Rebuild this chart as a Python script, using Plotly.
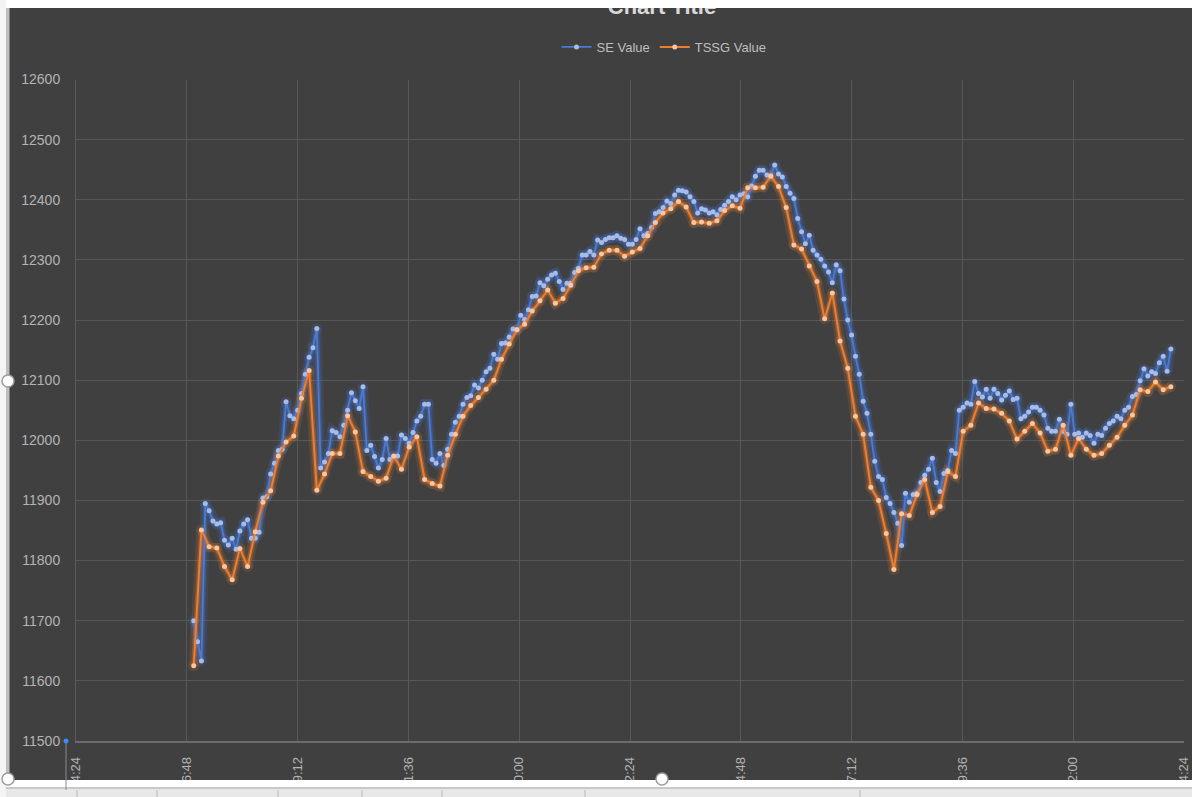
import pandas as pd
import plotly.graph_objects as go

# ---- data -------------------------------------------------------------
se_value = [
    11700, 11665, 11633, 11895, 11883, 11866, 11861, 11863, 11834, 11826,
    11837, 11819, 11849, 11861, 11868, 11837, 11837, 11847, 11904, 11906,
    11944, 11962, 11983, 11985, 12064, 12041, 12036, 12050, 12078, 12110,
    12138, 12154, 12186, 11954, 11964, 11978, 12016, 12013, 12006, 12025,
    12050, 12079, 12066, 12053, 12089, 11983, 11992, 11973, 11954, 11968,
    12003, 11968, 11973, 11974, 12009, 12003, 11995, 12013, 12032, 12040,
    12060, 12060, 11968, 11962, 11978, 11958, 11985, 12010, 12030, 12040,
    12060,
    12071, 12074, 12092, 12087, 12100, 12114, 12120, 12143, 12135, 12161,
    12162, 12172, 12185, 12184, 12208, 12201, 12217, 12239, 12240, 12262,
    12257, 12268, 12275, 12278, 12264, 12251, 12261, 12261, 12279, 12286,
    12308, 12308, 12314, 12308, 12333, 12329, 12334, 12337, 12337, 12340,
    12336, 12334, 12326, 12326, 12334, 12352, 12340, 12344, 12354, 12377,
    12380, 12387, 12398, 12394, 12408, 12416, 12415, 12413, 12405, 12397,
    12378, 12385, 12383, 12378, 12380, 12375, 12384, 12391, 12397, 12405,
    12400, 12408, 12410, 12405, 12423, 12439, 12449, 12449, 12441, 12440,
    12458, 12443, 12438, 12422, 12411, 12402, 12369, 12347, 12327, 12341,
    12316, 12308, 12301,
    12290, 12280, 12262, 12292, 12282, 12235, 12200, 12175, 12140, 12110,
    12065, 12045, 12010, 11965, 11940, 11935, 11905, 11895, 11880, 11862,
    11825, 11912, 11897, 11910, 11912, 11930, 11942, 11952, 11970, 11930,
    11915, 11945, 11950, 11983, 11978, 12050, 12055, 12062, 12060, 12098,
    12078, 12072, 12085, 12070, 12085, 12078, 12067, 12075, 12082, 12068,
    12070, 12036, 12040, 12047, 12055, 12055, 12050, 12042, 12020, 12015,
    12015, 12035, 12015, 12010, 12060, 12010, 12012, 12005, 12012, 12008,
    11995, 12010, 12008, 12020, 12028, 12032, 12040, 12036, 12050, 12055,
    12073, 12076, 12099, 12119, 12107, 12114, 12111, 12129, 12140, 12115,
    12152,
]

tssg_value = [
    11625, 11851, 11823, 11821, 11790, 11768, 11820, 11790, 11848, 11897,
    11916, 11974, 11997, 12007, 12070, 12116, 11917, 11944, 11978, 11978,
    12041, 12014, 11948, 11940, 11932, 11937, 11974, 11952, 11989, 12006,
    11935, 11928, 11924, 11975, 12010, 12040, 12058, 12071, 12085, 12100,
    12135, 12160, 12184, 12193, 12215, 12232, 12250, 12228, 12236, 12258,
    12282, 12287, 12288, 12310, 12316, 12316, 12306, 12313, 12319, 12340,
    12362, 12378, 12385, 12397, 12388, 12362, 12363, 12361, 12365, 12382,
    12390, 12386, 12420, 12420, 12421, 12439, 12422, 12387, 12325, 12318,
    12290, 12264, 12202, 12245, 12165, 12120, 12040, 12010, 11922, 11900,
    11845, 11785, 11878, 11875, 11910, 11935, 11880, 11890, 11948, 11940,
    12015, 12025, 12062, 12053, 12052, 12045, 12032, 12002, 12015, 12028,
    12012, 11982, 11985, 12025, 11975, 12003, 11985, 11975, 11978, 11992,
    12005, 12025, 12042, 12084, 12081, 12097, 12084, 12089,
]

series_names = ["SE Value", "TSSG Value"]
chart_title = "Chart Title"
first_reading = "2019-03-14 16:57"
se_time = pd.date_range(first_reading, periods=len(se_value), freq="5min")
tssg_time = pd.date_range(first_reading, periods=len(tssg_value), freq="10min")

x_start, x_end = "2019-03-14 14:24", "2019-03-15 14:24"
y_min, y_max, y_step = 11500, 12600, 100

# ---- page geometry (pixels) -------------------------------------------
W, H = 1192, 797


def px(x):
    return x / W


def py(y):
    return 1 - y / H


FONT = "Liberation Sans, Arial, sans-serif"
BG = "#404040"
GRID = "#575757"

BLUE, BLUE_PT = "#4a7bd0", "#a8bce6"
ORANGE, ORANGE_PT = "#ed7d31", "#f7c6a3"

fig = go.Figure()

# soft glow under each series
for t, v, c in [(se_time, se_value, "rgba(70,120,225,"), (tssg_time, tssg_value, "rgba(237,125,49,")]:
    fig.add_trace(go.Scatter(x=t, y=v, mode="lines+markers", showlegend=False, hoverinfo="skip",
                             line=dict(color=c + "0.15)", width=10),
                             marker=dict(color=c + "0.15)", size=11)))
    fig.add_trace(go.Scatter(x=t, y=v, mode="lines", showlegend=False, hoverinfo="skip",
                             line=dict(color=c + "0.30)", width=5)))

fig.add_trace(go.Scatter(x=se_time, y=se_value, name=series_names[0], mode="lines+markers",
                         line=dict(color=BLUE, width=1.8),
                         marker=dict(color=BLUE_PT, size=5, line=dict(width=0))))
fig.add_trace(go.Scatter(x=tssg_time, y=tssg_value, name=series_names[1], mode="lines+markers",
                         line=dict(color=ORANGE, width=2),
                         marker=dict(color=ORANGE_PT, size=5, line=dict(width=0))))

# chart title, clipped by the top edge of the chart frame (title strip: y 8..40 px)
fig.add_trace(go.Scatter(x=[662], y=[31.5], mode="text", text=[chart_title],
                         textfont=dict(family=FONT, size=22, color="#d9d9d9", weight="bold"),
                         textposition="middle center", cliponaxis=True,
                         showlegend=False, hoverinfo="skip", xaxis="x2", yaxis="y2"))

shapes = []


def rect(x0, y0, x1, y1, color):
    shapes.append(dict(type="rect", xref="paper", yref="paper", layer="above",
                       x0=px(x0), x1=px(x1), y0=py(y1), y1=py(y0),
                       fillcolor=color, line=dict(width=0)))


def vline(x, y0, y1, color, width=1):
    shapes.append(dict(type="line", xref="paper", yref="paper", layer="above",
                       x0=px(x), x1=px(x), y0=py(y0), y1=py(y1),
                       line=dict(color=color, width=width)))


def handle(cx, cy, r=6):
    shapes.append(dict(type="circle", xref="paper", yref="paper", layer="above",
                       x0=px(cx - r), x1=px(cx + r), y0=py(cy + r), y1=py(cy - r),
                       fillcolor="white", line=dict(color="#9c9c9c", width=1.5)))


# window chrome around the chart frame
rect(0, 0, W, 8, "white")
rect(0, 780, W, 787, "white")
rect(0, 787, W, 789, "#c8c8c8")
rect(0, 789, W, H, "#e8e8e8")
rect(0, 0, 6, H, "#f4f4f4")
rect(6, 8, 9.5, 780, "#bebebe")
for xs in [77, 157, 278, 362, 442, 585, 860]:
    vline(xs, 790, H, "#b8b8b8")
vline(66, 741, 790, "#8a8a8a")
shapes.append(dict(type="circle", xref="paper", yref="paper", layer="above",
                   x0=px(63.5), x1=px(68.5), y0=py(743.5), y1=py(738.5),
                   fillcolor="#2f8fff", line=dict(width=0)))
handle(8, 381)
handle(8, 779)
handle(662, 779)

fig.update_layout(
    template="none",
    width=W, height=H,
    margin=dict(l=0, r=0, t=0, b=0, pad=0),
    paper_bgcolor=BG, plot_bgcolor=BG,
    hovermode=False,
    showlegend=True,
    legend=dict(orientation="h", x=px(664), y=py(47), xanchor="center", yanchor="middle",
                bgcolor="rgba(0,0,0,0)",
                font=dict(family=FONT, size=13, color="#bfbfbf"),
                itemwidth=30, tracegroupgap=0),
    xaxis=dict(
        type="date", domain=[px(76), px(1184)], range=[x_start, x_end],
        tick0=x_start, dtick=2.4 * 3600 * 1000, tickformat="%-m/%-d/%Y %-H:%M",
        tickangle=-90, tickfont=dict(family=FONT, size=13, color="#b4b4b4"),
        ticks="", ticklabelstandoff=9,
        showgrid=True, gridcolor=GRID, gridwidth=1,
        showline=True, linecolor="#6c6c6c", linewidth=1.5,
        zeroline=False, automargin=False, anchor="y",
    ),
    yaxis=dict(
        domain=[py(741), py(79.5)], range=[y_min, y_max], dtick=y_step, tick0=y_min,
        tickformat="d",
        tickfont=dict(family=FONT, size=14, color="#b4b4b4"), ticks="", ticklabelstandoff=12,
        showgrid=True, gridcolor=GRID, gridwidth=1,
        showline=True, linecolor="#5c5c5c", linewidth=1,
        zeroline=False, automargin=False, anchor="x",
    ),
    xaxis2=dict(domain=[px(200), px(1120)], range=[200, 1120], visible=False, anchor="y2",
                fixedrange=True),
    yaxis2=dict(domain=[py(40), py(8)], range=[0, 32], visible=False, anchor="x2", fixedrange=True),
    shapes=shapes,
)

fig.write_html("out.html")
